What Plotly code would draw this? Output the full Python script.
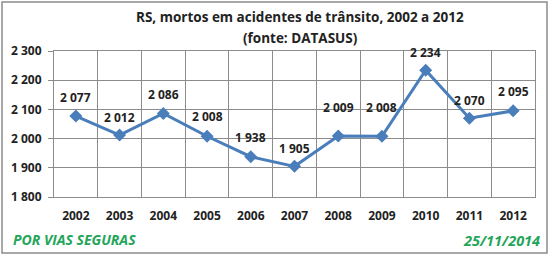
import plotly.graph_objects as go

years = ["2002", "2003", "2004", "2005", "2006", "2007", "2008", "2009", "2010", "2011", "2012"]
deaths = [2077, 2012, 2086, 2008, 1938, 1905, 2009, 2008, 2234, 2070, 2095]
y_ticks = [1800, 1900, 2000, 2100, 2200, 2300]
# vertical offset (px) of each data label above its point
label_lift = [19, 18, 19, 20, 19, 18, 28, 29, 18, 18, 19]

W, H = 550, 256
L, R, T, B = 54, 15, 51, 59
pw, ph = W - L - R, H - T - B

def px_x(p):
    return (p - L) / pw

def px_y(p):
    return (H - B - p) / ph

def fmt(v):
    return f"{v:,}".replace(",", " ")

fig = go.Figure()
fig.add_trace(go.Scatter(
    x=years, y=deaths, mode="lines+markers",
    line=dict(color="#4A7EBB", width=3),
    marker=dict(symbol="diamond", size=10, color="#4A7EBB"),
    cliponaxis=False, hoverinfo="skip",
))
for i, (v, lift) in enumerate(zip(deaths, label_lift)):
    fig.add_annotation(x=i, y=v, xref="x", yref="y", text=f"<b>{fmt(v)}</b>", showarrow=False,
                       xanchor="center", yanchor="middle", yshift=lift,
                       font=dict(family="Open Sans", size=12, color="#222222"))

fig.update_layout(
    width=W, height=H, margin=dict(l=L, r=R, t=T, b=B),
    paper_bgcolor="white", plot_bgcolor="white",
    separators=", ", showlegend=False,
    font=dict(family="Open Sans", size=12, color="#222222"),
)
fig.update_xaxes(
    type="category", tickson="boundaries", showgrid=True, gridcolor="#8C8C8C", gridwidth=1,
    showline=True, linecolor="#8C8C8C", mirror=True, ticks="", ticklabelstandoff=8,
    tickfont=dict(family="Open Sans", size=12, color="#222222", weight="bold"),
    range=[-0.5, 10.5],
)
fig.update_yaxes(
    range=[1800, 2300], tickvals=y_ticks, separatethousands=True, tickformat=",",
    showgrid=True, gridcolor="#8C8C8C", gridwidth=1,
    showline=True, linecolor="#8C8C8C", mirror=True, ticks="outside", ticklen=5, tickcolor="#8C8C8C",
    ticklabelstandoff=4,
    tickfont=dict(family="Open Sans", size=12, color="#222222", weight="bold"),
    zeroline=False,
)
fig.add_shape(type="rect", xref="paper", yref="paper",
              x0=px_x(2), x1=px_x(547), y0=px_y(253), y1=px_y(2),
              line=dict(color="#8C8C8C", width=1.5), layer="below")
fig.add_annotation(text="<b>RS, mortos em acidentes de trânsito, 2002 a 2012</b>", xref="paper", yref="paper",
                   x=px_x(300), y=px_y(17), xanchor="center", yanchor="middle", showarrow=False,
                   font=dict(family="Open Sans", size=13.5, color="#222222"))
fig.add_annotation(text="<b>(fonte: DATASUS)</b>", xref="paper", yref="paper",
                   x=px_x(300), y=px_y(38), xanchor="center", yanchor="middle", showarrow=False,
                   font=dict(family="Open Sans", size=13.5, color="#222222"))
fig.add_annotation(text="<i><b>POR VIAS SEGURAS</b></i>", xref="paper", yref="paper",
                   x=px_x(11), y=px_y(239), xanchor="left", yanchor="middle", showarrow=False,
                   font=dict(family="Open Sans", size=14, color="#23A55A"))
fig.add_annotation(text="<i><b>25/11/2014</b></i>", xref="paper", yref="paper",
                   x=px_x(542), y=px_y(240), xanchor="right", yanchor="middle", showarrow=False,
                   font=dict(family="Open Sans", size=14.5, color="#23A55A"))

fig.write_html("out.html")
